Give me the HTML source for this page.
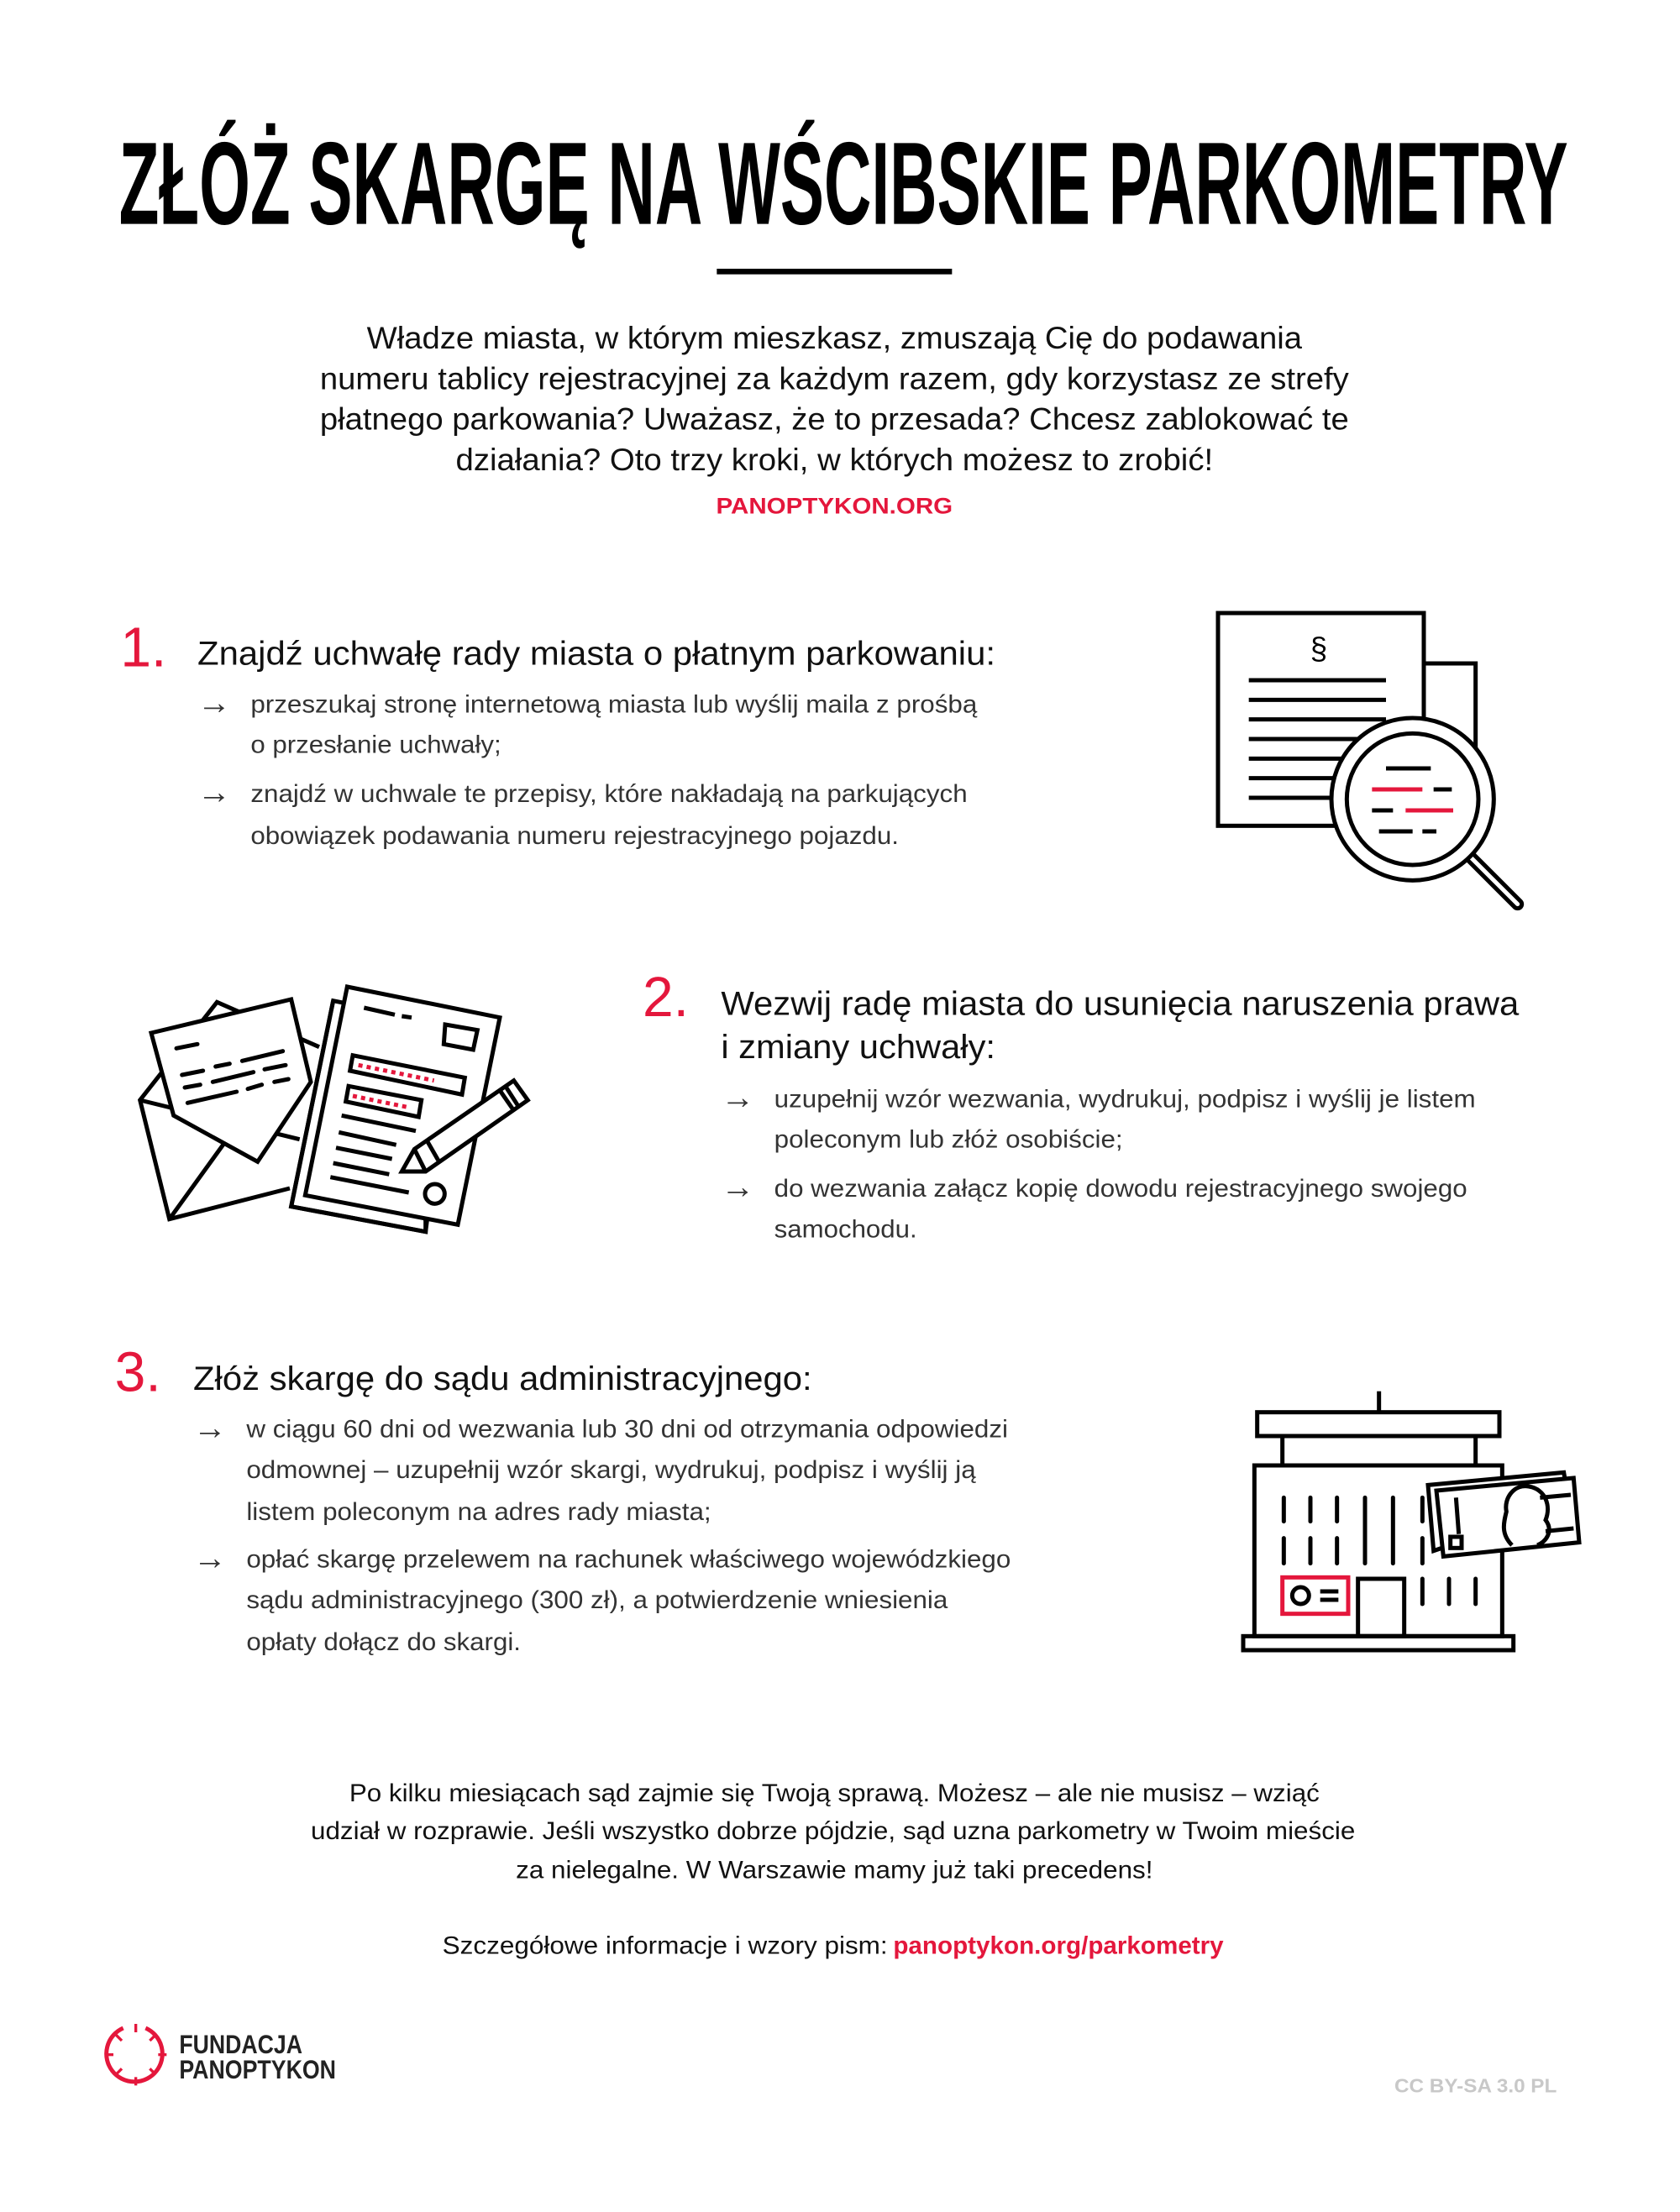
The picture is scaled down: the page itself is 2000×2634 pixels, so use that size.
<!DOCTYPE html>
<html><head><meta charset="utf-8"><style>
html,body{margin:0;padding:0;background:#fff;}
svg{display:block;}
text{font-family:"Liberation Sans",sans-serif;}
</style></head><body>
<svg width="2000" height="2634" viewBox="0 0 1200 1580.4" xmlns="http://www.w3.org/2000/svg">
<rect width="1200" height="1580.4" fill="#fff"/>
<text x="85" y="160" font-size="84" font-weight="bold" textLength="1035" lengthAdjust="spacingAndGlyphs" fill="#000">ZŁÓŻ SKARGĘ NA WŚCIBSKIE PARKOMETRY</text>
<rect x="512" y="192" width="168" height="4" fill="#000"/>
<g font-size="22" fill="#111" text-anchor="middle">
<text x="596" y="249" textLength="668" lengthAdjust="spacingAndGlyphs">Władze miasta, w którym mieszkasz, zmuszają Cię do podawania</text>
<text x="596" y="278" textLength="735" lengthAdjust="spacingAndGlyphs">numeru tablicy rejestracyjnej za każdym razem, gdy korzystasz ze strefy</text>
<text x="596" y="307" textLength="735" lengthAdjust="spacingAndGlyphs">płatnego parkowania? Uważasz, że to przesada? Chcesz zablokować te</text>
<text x="596" y="336" textLength="541" lengthAdjust="spacingAndGlyphs">działania? Oto trzy kroki, w których możesz to zrobić!</text>
</g>
<text x="596" y="367" font-size="16" font-weight="bold" fill="#e4173c" text-anchor="middle" textLength="169" lengthAdjust="spacingAndGlyphs">PANOPTYKON.ORG</text>

<text x="86" y="476" font-size="40" fill="#e4173c" textLength="33" lengthAdjust="spacingAndGlyphs">1.</text>
<text x="141" y="475" font-size="24" fill="#111" textLength="570" lengthAdjust="spacingAndGlyphs">Znajdź uchwałę rady miasta o płatnym parkowaniu:</text>
<g font-size="18" fill="#333">
<text x="141" y="510" font-size="24" textLength="24" lengthAdjust="spacingAndGlyphs">→</text>
<text x="179" y="509" textLength="519" lengthAdjust="spacingAndGlyphs">przeszukaj stronę internetową miasta lub wyślij maila z prośbą</text>
<text x="179" y="538" textLength="179" lengthAdjust="spacingAndGlyphs">o przesłanie uchwały;</text>
<text x="141" y="574" font-size="24" textLength="24" lengthAdjust="spacingAndGlyphs">→</text>
<text x="179" y="573" textLength="512" lengthAdjust="spacingAndGlyphs">znajdź w uchwale te przepisy, które nakładają na parkujących</text>
<text x="179" y="603" textLength="463" lengthAdjust="spacingAndGlyphs">obowiązek podawania numeru rejestracyjnego pojazdu.</text>
</g>
<g stroke="#000" stroke-width="3" fill="none">
<polyline points="1017,474 1054,474 1054,545"/>
<rect x="870" y="438" width="147" height="152" fill="#fff"/>
<line x1="892" y1="486" x2="990" y2="486"/><line x1="892" y1="500" x2="990" y2="500"/>
<line x1="892" y1="514" x2="990" y2="514"/><line x1="892" y1="528" x2="990" y2="528"/>
<line x1="892" y1="542" x2="990" y2="542"/><line x1="892" y1="556" x2="990" y2="556"/>
<line x1="892" y1="570" x2="990" y2="570"/>
<line x1="1050" y1="612" x2="1084" y2="646" stroke-width="9" stroke-linecap="round"/>
<line x1="1050" y1="612" x2="1084" y2="646" stroke="#fff" stroke-width="3" stroke-linecap="round"/>
<circle cx="1009" cy="571" r="58" fill="#fff"/>
<circle cx="1009" cy="571" r="47"/>
<line x1="990" y1="549" x2="1022" y2="549"/>
<line x1="980" y1="564" x2="1016" y2="564" stroke="#e4173c"/><line x1="1024" y1="564" x2="1037" y2="564"/>
<line x1="980" y1="579" x2="995" y2="579"/><line x1="1004" y1="579" x2="1038" y2="579" stroke="#e4173c"/>
<line x1="985" y1="594" x2="1009" y2="594"/><line x1="1016" y1="594" x2="1026" y2="594"/>
</g>
<text x="942" y="471" font-size="22" text-anchor="middle" fill="#000">§</text>

<text x="459" y="726" font-size="40" fill="#e4173c" textLength="33" lengthAdjust="spacingAndGlyphs">2.</text>
<text x="515" y="725" font-size="24" fill="#111" textLength="570" lengthAdjust="spacingAndGlyphs">Wezwij radę miasta do usunięcia naruszenia prawa</text>
<text x="515" y="756" font-size="24" fill="#111" textLength="196" lengthAdjust="spacingAndGlyphs">i zmiany uchwały:</text>
<g font-size="18" fill="#333">
<text x="515" y="792" font-size="24" textLength="24" lengthAdjust="spacingAndGlyphs">→</text>
<text x="553" y="791" textLength="501" lengthAdjust="spacingAndGlyphs">uzupełnij wzór wezwania, wydrukuj, podpisz i wyślij je listem</text>
<text x="553" y="820" textLength="249" lengthAdjust="spacingAndGlyphs">poleconym lub złóż osobiście;</text>
<text x="515" y="856" font-size="24" textLength="24" lengthAdjust="spacingAndGlyphs">→</text>
<text x="553" y="855" textLength="495" lengthAdjust="spacingAndGlyphs">do wezwania załącz kopię dowodu rejestracyjnego swojego</text>
<text x="553" y="884" textLength="102" lengthAdjust="spacingAndGlyphs">samochodu.</text>
</g>
<g stroke="#000" stroke-width="3" fill="none" stroke-linejoin="miter">
<polyline points="228,748 155,716 100,786 121,871 207,849"/>
<line x1="100" y1="786" x2="214" y2="814"/>
<line x1="121" y1="871" x2="160" y2="817"/>
<polygon points="108,738 208,714 222,773 184,830 124,797" fill="#fff"/>
<g stroke-linecap="round">
<line x1="126" y1="749" x2="141" y2="746"/>
<line x1="130" y1="768" x2="145" y2="765"/><line x1="154" y1="762" x2="164" y2="760"/><line x1="173" y1="758" x2="202" y2="751"/>
<line x1="132" y1="777" x2="143" y2="775"/><line x1="152" y1="773" x2="181" y2="766"/><line x1="189" y1="764" x2="204" y2="761"/>
<line x1="134" y1="788" x2="169" y2="780"/><line x1="177" y1="778" x2="187" y2="775"/><line x1="196" y1="773" x2="206" y2="771"/>
</g>
<polygon points="238,715 248,717 304,872 304,880 208,862" fill="#fff"/>
<polyline points="238,715 208,862 304,880 305,872"/>
<polygon points="248,705 357,727 327,875 218,854" fill="#fff"/>
<polygon points="318,732 341,736 338,750 317,746"/>
<line x1="260" y1="720" x2="282" y2="725"/><line x1="287" y1="726" x2="294" y2="727"/>
<polygon points="252,754 332,770 330,782 250,765"/>
<polygon points="249,776 301,786 299,798 247,787"/>
<line x1="256" y1="761" x2="310" y2="772" stroke="#e4173c" stroke-dasharray="3,3"/>
<line x1="252" y1="783" x2="291" y2="791" stroke="#e4173c" stroke-dasharray="3,3"/>
<line x1="244" y1="797" x2="297" y2="808"/><line x1="242" y1="809" x2="283" y2="818"/>
<line x1="240" y1="820" x2="280" y2="828"/><line x1="238" y1="831" x2="278" y2="839"/>
<line x1="236" y1="841" x2="292" y2="852"/>
<circle cx="310.6" cy="853" r="7"/>
<polygon points="287,837 296,821 367,772 377,786 304,837" fill="#fff"/>
<line x1="296" y1="821" x2="304" y2="837"/>
<line x1="305" y1="815" x2="313" y2="829"/>
<line x1="357" y1="779" x2="366" y2="792"/>
<line x1="361" y1="776" x2="370" y2="790"/>
</g>

<text x="82" y="994" font-size="40" fill="#e4173c" textLength="33" lengthAdjust="spacingAndGlyphs">3.</text>
<text x="138" y="993" font-size="24" fill="#111" textLength="442" lengthAdjust="spacingAndGlyphs">Złóż skargę do sądu administracyjnego:</text>
<g font-size="18" fill="#333">
<text x="138" y="1028" font-size="24" textLength="24" lengthAdjust="spacingAndGlyphs">→</text>
<text x="176" y="1027" textLength="544" lengthAdjust="spacingAndGlyphs">w ciągu 60 dni od wezwania lub 30 dni od otrzymania odpowiedzi</text>
<text x="176" y="1056" textLength="521" lengthAdjust="spacingAndGlyphs">odmownej – uzupełnij wzór skargi, wydrukuj, podpisz i wyślij ją</text>
<text x="176" y="1086" textLength="332" lengthAdjust="spacingAndGlyphs">listem poleconym na adres rady miasta;</text>
<text x="138" y="1121" font-size="24" textLength="24" lengthAdjust="spacingAndGlyphs">→</text>
<text x="176" y="1120" textLength="546" lengthAdjust="spacingAndGlyphs">opłać skargę przelewem na rachunek właściwego wojewódzkiego</text>
<text x="176" y="1149" textLength="501" lengthAdjust="spacingAndGlyphs">sądu administracyjnego (300 zł), a potwierdzenie wniesienia</text>
<text x="176" y="1179" textLength="196" lengthAdjust="spacingAndGlyphs">opłaty dołącz do skargi.</text>
</g>
<g stroke="#000" stroke-width="3" fill="none">
<line x1="985" y1="994" x2="985" y2="1009"/>
<rect x="898" y="1009" width="173" height="17"/>
<line x1="916" y1="1026" x2="916" y2="1047"/><line x1="1054" y1="1026" x2="1054" y2="1047"/>
<rect x="896" y="1047" width="177" height="122"/>
<rect x="888" y="1169" width="193" height="10"/>
<g stroke-linecap="round">
<line x1="917" y1="1070" x2="917" y2="1087"/><line x1="936" y1="1070" x2="936" y2="1087"/><line x1="955" y1="1070" x2="955" y2="1087"/>
<line x1="917" y1="1099" x2="917" y2="1117"/><line x1="936" y1="1099" x2="936" y2="1117"/><line x1="955" y1="1099" x2="955" y2="1117"/>
<line x1="975" y1="1070" x2="975" y2="1117"/><line x1="995" y1="1070" x2="995" y2="1117"/>
<line x1="1016" y1="1070" x2="1016" y2="1087"/><line x1="1016" y1="1099" x2="1016" y2="1117"/>
<line x1="1016" y1="1128" x2="1016" y2="1146"/><line x1="1035" y1="1128" x2="1035" y2="1146"/><line x1="1054" y1="1128" x2="1054" y2="1146"/>
</g>
<rect x="970" y="1128" width="33" height="41"/>
<rect x="916" y="1127" width="47" height="26" stroke="#e4173c"/>
<line x1="943" y1="1137" x2="956" y2="1137"/><line x1="943" y1="1143" x2="956" y2="1143"/>
<circle cx="929" cy="1140" r="6"/>
<polygon points="1020,1061 1117,1052 1121,1075 1024,1108" fill="#fff"/>
<polygon points="1026,1065 1124,1056 1128,1102 1031,1112" fill="#fff"/>
<line x1="1040" y1="1070" x2="1042" y2="1096"/>
<rect x="1036" y="1098" width="8" height="8"/>
<path d="M1080,1104 C1072,1096 1074,1088 1076,1080 C1074,1070 1082,1060 1092,1062 C1104,1064 1108,1076 1104,1086 C1110,1094 1104,1102 1098,1104"/>
<line x1="1100" y1="1070" x2="1122" y2="1068"/><line x1="1104" y1="1094" x2="1124" y2="1092"/>
</g>

<g font-size="18" fill="#111" text-anchor="middle">
<text x="596" y="1287" textLength="693" lengthAdjust="spacingAndGlyphs">Po kilku miesiącach sąd zajmie się Twoją sprawą. Możesz – ale nie musisz – wziąć</text>
<text x="595" y="1314" textLength="746" lengthAdjust="spacingAndGlyphs">udział w rozprawie. Jeśli wszystko dobrze pójdzie, sąd uzna parkometry w Twoim mieście</text>
<text x="596" y="1342" textLength="455" lengthAdjust="spacingAndGlyphs">za nielegalne. W Warszawie mamy już taki precedens!</text>
</g>
<text x="316" y="1396" font-size="18" fill="#111" textLength="318" lengthAdjust="spacingAndGlyphs">Szczegółowe informacje i wzory pism:</text>
<text x="638" y="1396" font-size="18" font-weight="bold" fill="#e4173c" textLength="236" lengthAdjust="spacingAndGlyphs">panoptykon.org/parkometry</text>

<g stroke="#e4173c" stroke-width="3" fill="none">
<path d="M104,1449 A20,20 0 1 1 88,1449"/>
<g stroke-width="2">
<line x1="97" y1="1446" x2="97" y2="1452"/><line x1="111" y1="1454" x2="107" y2="1458"/>
<line x1="119" y1="1468" x2="113" y2="1468"/><line x1="111" y1="1482" x2="107" y2="1478"/>
<line x1="97" y1="1490" x2="97" y2="1484"/><line x1="83" y1="1482" x2="87" y2="1478"/>
<line x1="75" y1="1468" x2="81" y2="1468"/><line x1="83" y1="1454" x2="87" y2="1458"/>
</g></g>
<text x="128" y="1467" font-size="19" font-weight="bold" fill="#222" textLength="88" lengthAdjust="spacingAndGlyphs">FUNDACJA</text>
<text x="128" y="1485" font-size="19" font-weight="bold" fill="#222" textLength="112" lengthAdjust="spacingAndGlyphs">PANOPTYKON</text>
<text x="996" y="1495" font-size="14" font-weight="bold" fill="#c8c8c8" textLength="116" lengthAdjust="spacingAndGlyphs">CC BY-SA 3.0 PL</text>
</svg>
</body></html>
